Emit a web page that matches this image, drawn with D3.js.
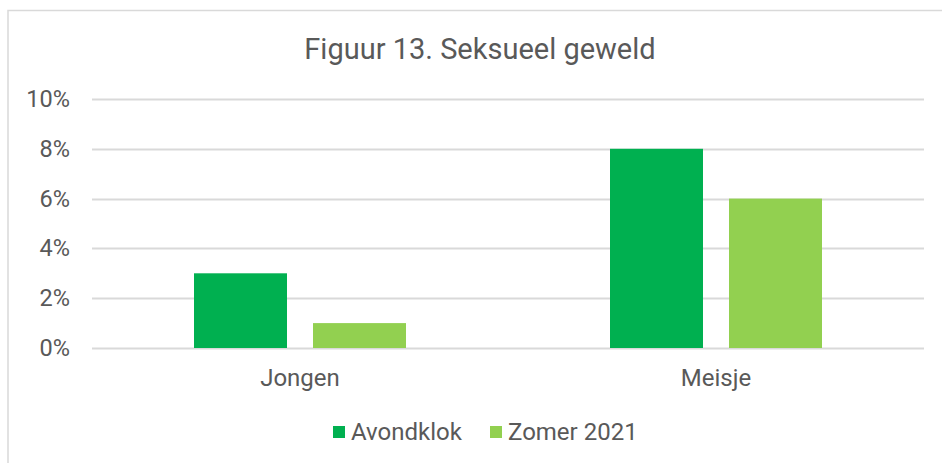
<!DOCTYPE html>
<html>
<head>
<meta charset="utf-8">
<script src="https://cdn.jsdelivr.net/npm/d3@7"></script>
<style>
  html, body { margin: 0; padding: 0; background: white; }
  svg { display: block; font-family: Roboto, Arial, sans-serif; }
</style>
</head>
<body>
<div id="chart"></div>
<script>
// chart data
const categories = ["Jongen", "Meisje"];
const seriesNames = ["Avondklok", "Zomer 2021"];
const avondklok = [3, 8];
const zomer2021 = [1, 6];
const yTicks = [0, 2, 4, 6, 8, 10];
const colors = ["#00B050", "#92D050"];

const width = 942, height = 463;
const margin = { top: 99, left: 92 };
const innerWidth = 924 - margin.left;
const innerHeight = 348 - margin.top;

const svg = d3.select("#chart").append("svg")
    .attr("width", width)
    .attr("height", height);

// outer border
svg.append("path")
    .attr("d", `M8,${height} V10.5 H${width}`)
    .attr("fill", "none")
    .attr("stroke", "#d9d9d9")
    .attr("stroke-width", 1.5);

svg.append("text")
    .attr("x", 480).attr("y", 59)
    .attr("text-anchor", "middle")
    .attr("font-size", "29px")
    .attr("fill", "#595959")
    .text("Figuur 13. Seksueel geweld");

const g = svg.append("g")
    .attr("transform", `translate(${margin.left},${margin.top})`);

const y = d3.scaleLinear().domain([0, 10]).range([innerHeight, 0]);
const x0 = d3.scaleBand().domain(categories).range([0, innerWidth]);
// two bars of 93px with a 26px gap, centred in each category band
const groupWidth = 212;
const x1 = d3.scaleBand().domain(seriesNames)
    .range([x0.bandwidth() / 2 - groupWidth / 2, x0.bandwidth() / 2 + groupWidth / 2])
    .paddingInner(26 / 119);

// gridlines
g.append("g")
    .selectAll("line")
    .data(yTicks)
    .join("line")
    .attr("x1", 0).attr("x2", innerWidth)
    .attr("y1", d => Math.round(y(d)) + 0.5)
    .attr("y2", d => Math.round(y(d)) + 0.5)
    .attr("stroke", "#d9d9d9")
    .attr("stroke-width", 2);

// y axis labels
const yAxis = g.append("g")
    .call(d3.axisLeft(y).tickValues(yTicks).tickFormat(d => d + "%").tickSize(0).tickPadding(22));
yAxis.select(".domain").remove();
yAxis.attr("font-size", null).attr("font-family", null);
yAxis.selectAll("text")
    .style("font-size", "23.5px")
    .attr("fill", "#595959");

// bars
const data = categories.map((c, i) => ({
    category: c,
    values: [
        { series: seriesNames[0], value: avondklok[i] },
        { series: seriesNames[1], value: zomer2021[i] }
    ]
}));

g.append("g")
    .selectAll("g")
    .data(data)
    .join("g")
    .attr("transform", d => `translate(${x0(d.category)},0)`)
    .selectAll("rect")
    .data(d => d.values)
    .join("rect")
    .attr("x", d => x1(d.series))
    .attr("width", x1.bandwidth())
    .attr("y", d => y(d.value))
    .attr("height", d => y(0) - y(d.value))
    .attr("fill", (d, i) => colors[i]);

// x axis labels
const xAxis = g.append("g")
    .attr("transform", `translate(0,${innerHeight})`)
    .call(d3.axisBottom(x0).tickSize(0).tickPadding(21));
xAxis.select(".domain").remove();
xAxis.attr("font-size", null).attr("font-family", null);
xAxis.selectAll("text")
    .style("font-size", "24px")
    .attr("fill", "#595959");

// legend
const legendX = [333, 490];
const legend = svg.append("g");
seriesNames.forEach((s, i) => {
    legend.append("rect")
        .attr("x", legendX[i]).attr("y", 426)
        .attr("width", 12).attr("height", 12)
        .attr("fill", colors[i]);
    legend.append("text")
        .attr("x", legendX[i] + 18).attr("y", 440)
        .style("font-size", "24px")
        .attr("fill", "#595959")
        .text(s);
});
</script>
</body>
</html>
